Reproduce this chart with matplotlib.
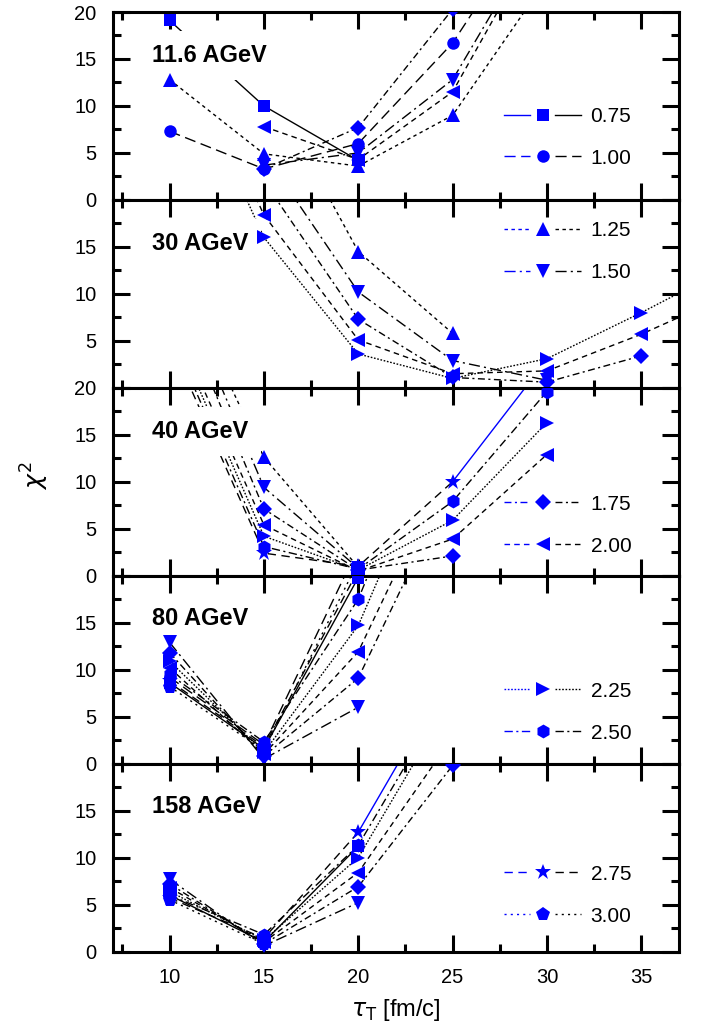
import numpy as np
import matplotlib
matplotlib.use("Agg")
import matplotlib.pyplot as plt
from matplotlib.lines import Line2D
from matplotlib.legend_handler import HandlerBase
from matplotlib.ticker import MultipleLocator

plt.rcParams['font.family'] = ['Liberation Sans', 'DejaVu Sans']
plt.rcParams['mathtext.fontset'] = 'dejavusans'

nan = np.nan

# ---------------- data ----------------
tau = [10, 15, 20, 25, 30, 35, 40]
energies = ['11.6 AGeV', '30 AGeV', '40 AGeV', '80 AGeV', '158 AGeV']
params = ['0.75', '1.00', '1.25', '1.50', '1.75', '2.00', '2.25', '2.50', '2.75', '3.00']

# rows follow params order; columns follow tau
chi2_11p6 = [
    [19.1, 10.0, 4.2, nan, nan, nan, nan],
    [7.3, 3.3, 6.0, 16.7, 32.0, nan, nan],
    [12.8, 4.9, 3.6, 9.0, 23.5, nan, nan],
    [nan, 3.7, 5.0, 12.8, 29.8, nan, nan],
    [nan, 3.3, 7.7, 20.3, nan, nan, nan],
    [nan, 7.8, 4.3, 11.5, 29.4, nan, nan],
    [nan, nan, nan, nan, nan, nan, nan],
    [nan, nan, nan, nan, nan, nan, nan],
    [nan, nan, nan, nan, nan, nan, nan],
    [nan, nan, nan, nan, nan, nan, nan],
]
chi2_30 = [
    [nan, nan, nan, nan, nan, nan, nan],
    [nan, nan, nan, nan, nan, nan, nan],
    [nan, 33.0, 14.5, 5.8, nan, nan, nan],
    [nan, 25.0, 10.2, 2.9, 0.8, nan, nan],
    [nan, 22.0, 7.3, 1.1, 0.6, 3.4, nan],
    [40.0, 18.4, 5.1, 1.5, 1.8, 5.7, 10.2],
    [38.0, 16.0, 3.6, 1.0, 3.1, 8.0, 13.2],
    [nan, nan, nan, nan, nan, nan, nan],
    [nan, nan, nan, nan, nan, nan, nan],
    [nan, nan, nan, nan, nan, nan, nan],
]
chi2_40 = [
    [nan, nan, nan, nan, nan, nan, nan],
    [nan, nan, nan, nan, nan, nan, nan],
    [34.0, 12.6, 0.9, nan, nan, nan, nan],
    [33.0, 9.4, 0.8, nan, nan, nan, nan],
    [31.0, 7.1, 0.6, 2.1, nan, nan, nan],
    [28.0, 5.4, 0.5, 3.9, 12.9, nan, nan],
    [27.0, 4.2, 0.6, 5.9, 16.3, nan, nan],
    [26.0, 3.1, 0.7, 7.9, 19.6, nan, nan],
    [25.0, 2.4, 1.0, 10.0, 23.0, nan, nan],
    [nan, nan, nan, nan, nan, nan, nan],
]
chi2_80 = [
    [8.6, 1.6, 19.8, nan, nan, nan, nan],
    [9.2, 2.0, 23.0, nan, nan, nan, nan],
    [nan, nan, nan, nan, nan, nan, nan],
    [12.9, 0.5, 6.0, nan, nan, nan, nan],
    [11.8, 0.8, 9.1, 30.0, nan, nan, nan],
    [10.2, 1.0, 11.9, 33.0, nan, nan, nan],
    [10.9, 1.2, 14.7, 38.0, nan, nan, nan],
    [9.5, 2.3, 17.5, 42.0, nan, nan, nan],
    [8.8, 1.8, 20.6, nan, nan, nan, nan],
    [8.2, 1.4, 21.5, nan, nan, nan, nan],
]
chi2_158 = [
    [6.0, 1.0, 11.2, nan, nan, nan, nan],
    [nan, nan, nan, nan, nan, nan, nan],
    [nan, nan, nan, nan, nan, nan, nan],
    [7.7, 0.6, 5.2, nan, nan, nan, nan],
    [7.2, 0.8, 6.9, 19.8, nan, nan, nan],
    [6.8, 1.0, 8.4, 22.8, nan, nan, nan],
    [6.4, 1.2, 10.0, 27.0, nan, nan, nan],
    [6.0, 1.8, 11.3, 28.3, nan, nan, nan],
    [5.7, 1.4, 12.7, 30.0, nan, nan, nan],
    [5.5, 0.8, nan, nan, nan, nan, nan],
]
panels = [chi2_11p6, chi2_30, chi2_40, chi2_80, chi2_158]

# panel -> tau from which the 2.75 curve is drawn in blue
blue_tail_275 = {2: 25, 4: 20}

# ---------------- styles ----------------
markers = ['s', 'o', '^', 'v', 'D', '<', '>', 'h', '*', 'p']
msizes = [8.5, 9, 10, 10, 8, 10, 10, 10, 12, 10]
styles = ['-', (0, (8, 4)), (0, (2.5, 2.5)), (0, (8, 3, 1.5, 3)),
          (0, (5, 2.5, 1.5, 2.5)), (0, (4, 3)), (0, (1.2, 1.2)),
          (0, (6, 2.5, 1.5, 2.5)), (0, (6, 4)), (0, (1.5, 3))]
legend_pairs = [(0, 1), (2, 3), (4, 5), (6, 7), (8, 9)]
legend_ymid = [0.333, 0.723, 0.269, 0.274, 0.30]
yticklabels = [['0', '5', '10', '15', '20'],
               ['', '5', '10', '15', ''],
               ['0', '5', '10', '15', '20'],
               ['0', '5', '10', '15', ''],
               ['0', '5', '10', '15', '']]
BLUE = '#0000ff'


class SplitLineHandler(HandlerBase):
    def create_artists(self, legend, orig_handle, xdescent, ydescent,
                       width, height, fontsize, trans):
        y = (height - ydescent) / 2.0
        x0 = -xdescent
        l1 = Line2D([x0, x0 + 0.34 * width], [y, y])
        l1.update_from(orig_handle)
        l1.set_color(BLUE)
        l1.set_marker('')
        m = Line2D([x0 + 0.5 * width], [y], linestyle='none',
                   marker=orig_handle.get_marker(), color=BLUE,
                   markersize=orig_handle.get_markersize(), markeredgewidth=0)
        l2 = Line2D([x0 + 0.66 * width, x0 + width], [y, y])
        l2.update_from(orig_handle)
        l2.set_color('black')
        l2.set_marker('')
        for a in (l1, m, l2):
            a.set_transform(trans)
        return [l1, m, l2]


fig = plt.figure(figsize=(7.01, 10.35), dpi=100)
left, right = 113 / 701, 679 / 701
top, bottom = 1 - 12 / 1035, 1 - 951.5 / 1035
ph = (top - bottom) / 5
axes = []
for k in range(5):
    ax = fig.add_axes([left, top - (k + 1) * ph, right - left, ph],
                      sharex=axes[0] if axes else None)
    axes.append(ax)

x_arr = np.array(tau, dtype=float)
for k, ax in enumerate(axes):
    data = panels[k]
    for i, row in enumerate(data):
        y = np.array(row, dtype=float)
        if np.all(np.isnan(y)):
            continue
        if i == 8 and k in blue_tail_275:
            cut = blue_tail_275[k]
            mask_b = x_arr <= cut
            mask_t = x_arr >= cut
            ax.plot(x_arr[mask_b], y[mask_b], color='black', lw=1.0,
                    linestyle=styles[i], zorder=2)
            ax.plot(x_arr[mask_t], y[mask_t], color=BLUE, lw=1.0,
                    linestyle='-', zorder=2)
        else:
            ax.plot(x_arr, y, color='black', lw=1.0, linestyle=styles[i], zorder=2)
        ax.plot(x_arr, y, linestyle='none', marker=markers[i], color=BLUE,
                markersize=msizes[i], markeredgewidth=0, zorder=4)

    ax.set_xlim(7, 37)
    ax.set_ylim(0, 20)
    ax.xaxis.set_major_locator(MultipleLocator(5))
    ax.xaxis.set_minor_locator(MultipleLocator(2.5))
    ax.set_yticks([0, 5, 10, 15, 20])
    ax.set_yticklabels(yticklabels[k])
    ax.yaxis.set_minor_locator(MultipleLocator(2.5))
    ax.tick_params(which='both', direction='in', top=True, right=True,
                   width=2.2, labelsize=14.5, pad=12)
    ax.tick_params(which='major', length=12)
    ax.tick_params(which='minor', length=6)
    for s in ax.spines.values():
        s.set_linewidth(2.2)
    if k < 4:
        ax.tick_params(labelbottom=False)

    ax.text(0.069, 0.77, energies[k], transform=ax.transAxes, fontsize=17,
            fontweight='bold', ha='left', va='center', zorder=3,
            bbox=dict(boxstyle='square,pad=0.55', fc='white', ec='none'))

    i1, i2 = legend_pairs[k]
    handles = [Line2D([], [], color='black', lw=1.0, linestyle=styles[i],
                      marker=markers[i], markersize=msizes[i]) for i in (i1, i2)]
    leg = ax.legend(handles, [params[i1], params[i2]],
                    handler_map={Line2D: SplitLineHandler()},
                    loc='center left', bbox_to_anchor=(0.691, legend_ymid[k]),
                    frameon=False, fontsize=15, handlelength=3.7,
                    handletextpad=0.45, labelspacing=1.1, borderpad=0,
                    borderaxespad=0)
    leg.set_zorder(6)

fig.text(35 / 701, 1 - 476 / 1035, r'$\chi^2$', rotation=90, fontsize=18,
         ha='center', va='center')
fig.text(396 / 701, 1 - 1010 / 1035, r'$\tau_{\mathrm{T}}$ [fm/c]', fontsize=17,
         ha='center', va='center')

fig.savefig('out.png', dpi=100)
